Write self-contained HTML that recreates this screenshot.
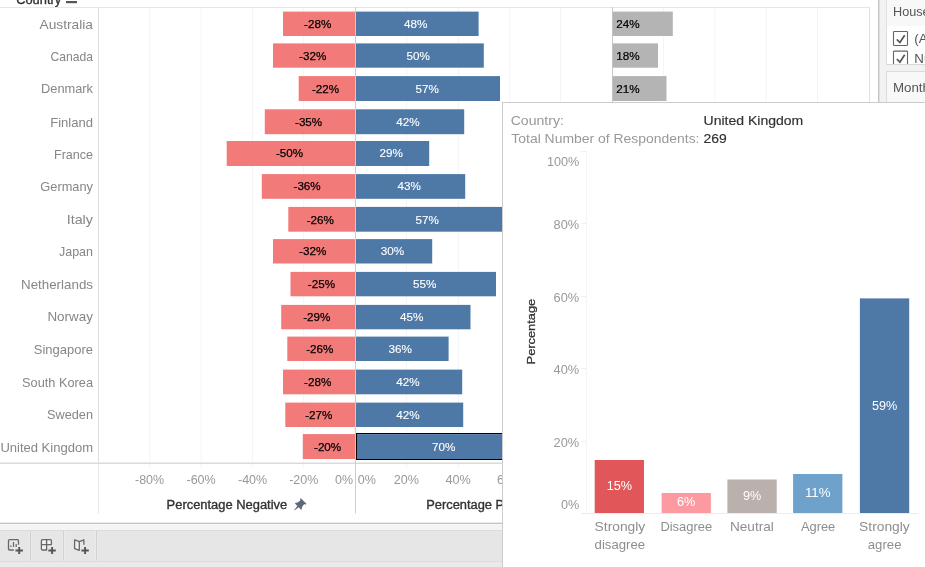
<!DOCTYPE html>
<html lang="en">
<head>
<meta charset="utf-8">
<title>Survey responses by country</title>
<style>
html,body{margin:0;padding:0;background:#fff;}
body{width:925px;height:567px;overflow:hidden;position:relative;font-family:"Liberation Sans", Arial, sans-serif;}
svg{position:absolute;left:0;top:0;display:block;overflow:hidden}
text{font-family:"Liberation Sans", Arial, sans-serif;}
#viz,#toolbar,#filters,#tooltip{position:absolute;overflow:hidden}
#viz{left:0;top:0;width:878px;height:523px;background:#fff}
#toolbar{left:0;top:522px;width:925px;height:45px}
#filters{left:878px;top:0;width:47px;height:523px;background:#f0f0f0}
#tooltip{left:502px;top:102px;width:423px;height:465px;background:#fff}
</style>
</head>
<body>

<div id="viz"><svg width="878" height="523" viewBox="0 0 878 523">
<text x="16.2" y="3.5" font-size="12.5" fill="#333" stroke="#333" stroke-width="0.35" textLength="45" lengthAdjust="spacingAndGlyphs">Country</text>
<rect x="66" y="1" width="11" height="2.2" fill="#555"/>
<g fill="#f4f4f4">
<rect x="149.30" y="8" width="1" height="460"/>
<rect x="200.60" y="8" width="1" height="460"/>
<rect x="251.90" y="8" width="1" height="460"/>
<rect x="303.20" y="8" width="1" height="460"/>
<rect x="406.10" y="8" width="1" height="460"/>
<rect x="457.90" y="8" width="1" height="460"/>
<rect x="508.90" y="8" width="1" height="460"/>
<rect x="560.00" y="8" width="1" height="460"/>
<rect x="663.10" y="8" width="1" height="460"/>
<rect x="714.40" y="8" width="1" height="460"/>
<rect x="765.70" y="8" width="1" height="460"/>
<rect x="817.00" y="8" width="1" height="460"/>
</g>
<rect x="0" y="7" width="870" height="1" fill="#e6e6e6"/>
<rect x="0" y="462" width="870" height="1" fill="#ececec"/>
<rect x="0" y="463" width="870" height="1" fill="#dadada"/>
<rect x="98" y="7" width="1" height="456" fill="#dedede"/>
<rect x="98" y="464" width="1" height="49.4" fill="#e6e6e6"/>
<g fill="#cccccc">
<rect x="355" y="7" width="1" height="506.4"/>
<rect x="612" y="7" width="1" height="506.4"/>
</g>
<rect x="869" y="7" width="1" height="506" fill="#e0e0e0"/>
<g fill="#f27b7a">
<rect x="283" y="11.6" width="72.0" height="24.4"/>
<rect x="273" y="43.4" width="82.0" height="24.3"/>
<rect x="298.7" y="76.1" width="56.3" height="24.9"/>
<rect x="264.8" y="109.3" width="90.2" height="24.9"/>
<rect x="226.7" y="141.0" width="128.3" height="25.0"/>
<rect x="261.8" y="174.1" width="93.2" height="24.7"/>
<rect x="288.3" y="206.9" width="66.7" height="24.8"/>
<rect x="273" y="239.1" width="82.0" height="24.4"/>
<rect x="290.5" y="271.9" width="64.5" height="24.4"/>
<rect x="281.2" y="304.9" width="73.8" height="24.4"/>
<rect x="287.3" y="336.6" width="67.7" height="24.4"/>
<rect x="283" y="369.6" width="72.0" height="24.7"/>
<rect x="285.3" y="402.6" width="69.7" height="24.4"/>
<rect x="302.8" y="434.1" width="52.2" height="24.9"/>
</g>
<g fill="#4e79a7">
<rect x="356" y="11.6" width="122.6" height="24.4"/>
<rect x="356" y="43.4" width="127.8" height="24.3"/>
<rect x="356" y="76.1" width="144.0" height="24.9"/>
<rect x="356" y="109.3" width="108.2" height="24.9"/>
<rect x="356" y="141.0" width="73.2" height="25.0"/>
<rect x="356" y="174.1" width="109.2" height="24.7"/>
<rect x="356" y="206.9" width="164.0" height="24.8"/>
<rect x="356" y="239.1" width="76.2" height="24.4"/>
<rect x="356" y="271.9" width="140.0" height="24.4"/>
<rect x="356" y="304.9" width="114.5" height="24.4"/>
<rect x="356" y="336.6" width="92.6" height="24.4"/>
<rect x="356" y="369.6" width="106.2" height="24.7"/>
<rect x="356" y="402.6" width="107.2" height="24.4"/>
<rect x="356" y="434.1" width="184.0" height="24.9"/>
</g>
<g fill="#b4b4b4">
<rect x="612.6" y="11.6" width="60.2" height="24.4"/>
<rect x="612.6" y="43.4" width="45.4" height="24.3"/>
<rect x="612.6" y="76.1" width="53.9" height="24.9"/>
</g>
<rect x="356.5" y="433.5" width="200" height="26" fill="none" stroke="#000" stroke-width="1"/>
<g font-size="12.6" fill="#868686" text-anchor="start">
<text x="39.5" y="29" textLength="53.5" lengthAdjust="spacingAndGlyphs">Australia</text>
<text x="50.5" y="61" textLength="42.5" lengthAdjust="spacingAndGlyphs">Canada</text>
<text x="41" y="93" textLength="52.0" lengthAdjust="spacingAndGlyphs">Denmark</text>
<text x="50.2" y="127" textLength="42.8" lengthAdjust="spacingAndGlyphs">Finland</text>
<text x="54" y="159" textLength="39.0" lengthAdjust="spacingAndGlyphs">France</text>
<text x="40.3" y="191" textLength="52.7" lengthAdjust="spacingAndGlyphs">Germany</text>
<text x="66.7" y="224" textLength="26.3" lengthAdjust="spacingAndGlyphs">Italy</text>
<text x="59" y="256" textLength="34.0" lengthAdjust="spacingAndGlyphs">Japan</text>
<text x="21" y="289" textLength="72.0" lengthAdjust="spacingAndGlyphs">Netherlands</text>
<text x="47.4" y="321" textLength="45.6" lengthAdjust="spacingAndGlyphs">Norway</text>
<text x="33.8" y="354" textLength="59.2" lengthAdjust="spacingAndGlyphs">Singapore</text>
<text x="22.1" y="387" textLength="70.9" lengthAdjust="spacingAndGlyphs">South Korea</text>
<text x="47.1" y="419" textLength="45.9" lengthAdjust="spacingAndGlyphs">Sweden</text>
<text x="0.4" y="452" textLength="92.6" lengthAdjust="spacingAndGlyphs">United Kingdom</text>
</g>
<g font-size="11.5" fill="#000" stroke="#000" stroke-width="0.25">
<text x="304.1" y="28" textLength="27.2" lengthAdjust="spacingAndGlyphs">-28%</text>
<text x="299.1" y="60" textLength="27.2" lengthAdjust="spacingAndGlyphs">-32%</text>
<text x="311.9" y="93" textLength="27.2" lengthAdjust="spacingAndGlyphs">-22%</text>
<text x="295.0" y="126" textLength="27.2" lengthAdjust="spacingAndGlyphs">-35%</text>
<text x="275.9" y="157" textLength="27.2" lengthAdjust="spacingAndGlyphs">-50%</text>
<text x="293.5" y="190" textLength="27.2" lengthAdjust="spacingAndGlyphs">-36%</text>
<text x="306.7" y="224" textLength="27.2" lengthAdjust="spacingAndGlyphs">-26%</text>
<text x="299.1" y="255" textLength="27.2" lengthAdjust="spacingAndGlyphs">-32%</text>
<text x="307.8" y="288" textLength="27.2" lengthAdjust="spacingAndGlyphs">-25%</text>
<text x="303.2" y="321" textLength="27.2" lengthAdjust="spacingAndGlyphs">-29%</text>
<text x="306.2" y="353" textLength="27.2" lengthAdjust="spacingAndGlyphs">-26%</text>
<text x="304.1" y="386" textLength="27.2" lengthAdjust="spacingAndGlyphs">-28%</text>
<text x="305.2" y="419" textLength="27.2" lengthAdjust="spacingAndGlyphs">-27%</text>
<text x="314.0" y="451" textLength="27.2" lengthAdjust="spacingAndGlyphs">-20%</text>
</g>
<g font-size="11.5" fill="#fff" stroke="#fff" stroke-width="0.12">
<text x="403.9" y="28" textLength="23.4" lengthAdjust="spacingAndGlyphs">48%</text>
<text x="406.4" y="60" textLength="23.4" lengthAdjust="spacingAndGlyphs">50%</text>
<text x="415.4" y="93" textLength="23.4" lengthAdjust="spacingAndGlyphs">57%</text>
<text x="396.2" y="126" textLength="23.4" lengthAdjust="spacingAndGlyphs">42%</text>
<text x="379.5" y="157" textLength="23.4" lengthAdjust="spacingAndGlyphs">29%</text>
<text x="397.5" y="190" textLength="23.4" lengthAdjust="spacingAndGlyphs">43%</text>
<text x="415.4" y="224" textLength="23.4" lengthAdjust="spacingAndGlyphs">57%</text>
<text x="380.8" y="255" textLength="23.4" lengthAdjust="spacingAndGlyphs">30%</text>
<text x="412.9" y="288" textLength="23.4" lengthAdjust="spacingAndGlyphs">55%</text>
<text x="400.0" y="321" textLength="23.4" lengthAdjust="spacingAndGlyphs">45%</text>
<text x="388.5" y="353" textLength="23.4" lengthAdjust="spacingAndGlyphs">36%</text>
<text x="396.2" y="386" textLength="23.4" lengthAdjust="spacingAndGlyphs">42%</text>
<text x="396.2" y="419" textLength="23.4" lengthAdjust="spacingAndGlyphs">42%</text>
<text x="432.1" y="451" textLength="23.4" lengthAdjust="spacingAndGlyphs">70%</text>
</g>
<g font-size="11.5" fill="#000" stroke="#000" stroke-width="0.22">
<text x="616.2" y="28" textLength="23.4" lengthAdjust="spacingAndGlyphs">24%</text>
<text x="616.2" y="60" textLength="23.4" lengthAdjust="spacingAndGlyphs">18%</text>
<text x="616.2" y="93" textLength="23.4" lengthAdjust="spacingAndGlyphs">21%</text>
</g>
<g font-size="12.3" fill="#999">
<text x="135.0" y="483.8" textLength="29.2" lengthAdjust="spacingAndGlyphs">-80%</text>
<text x="186.5" y="483.8" textLength="29.2" lengthAdjust="spacingAndGlyphs">-60%</text>
<text x="238.0" y="483.8" textLength="29.2" lengthAdjust="spacingAndGlyphs">-40%</text>
<text x="289.2" y="483.8" textLength="29.2" lengthAdjust="spacingAndGlyphs">-20%</text>
<text x="393.7" y="483.8" textLength="25.2" lengthAdjust="spacingAndGlyphs">20%</text>
<text x="445.5" y="483.8" textLength="25.4" lengthAdjust="spacingAndGlyphs">40%</text>
<text x="497.1" y="483.8" textLength="25.2" lengthAdjust="spacingAndGlyphs">60%</text>
<text x="335" y="483.8" textLength="18" lengthAdjust="spacingAndGlyphs">0%</text>
<text x="357.7" y="483.8" textLength="18.2" lengthAdjust="spacingAndGlyphs">0%</text>
</g>
<g font-size="12" fill="#333" stroke="#333" stroke-width="0.35">
<text x="166.6" y="509.3" textLength="120.6" lengthAdjust="spacingAndGlyphs">Percentage Negative</text>
<text x="426.2" y="509.3" textLength="114.5" lengthAdjust="spacingAndGlyphs">Percentage Positive</text>
</g>
<g transform="translate(300.8 503.8) rotate(45)" fill="#5f6a79"><path d="M-3.9 -4 H3.9 V-2.7 L2.7 -2.3 L3.1 1.2 L4.3 2.9 V4 H0.9 L0.25 9.4 L-0.25 9.4 L-0.9 4 H-4.3 V2.9 L-3.1 1.2 L-2.7 -2.3 L-3.9 -2.7 Z"/></g>
</svg></div>
<div id="filters"><svg width="47" height="523" viewBox="878 0 47 523">
<rect x="878" y="0" width="47" height="523" fill="#f2f2f2"/>
<rect x="878" y="0" width="1" height="523" fill="#c4c4c4"/>
<rect x="879" y="0" width="1" height="523" fill="#dedede"/>
<rect x="886" y="-1" width="40" height="66" fill="#fff" stroke="none"/>
<rect x="886" y="0" width="40" height="26" fill="#f8f8f8"/>
<rect x="886" y="0" width="1" height="65" fill="#e0e0e0"/>
<text x="893" y="16" font-size="13.6" fill="#555" textLength="60.5" lengthAdjust="spacingAndGlyphs">Household</text>
<rect x="893.5" y="31.5" width="14" height="14" rx="0.8" fill="#fff" stroke="#666" stroke-width="1.1"/>
<path d="M896.8 39.4 L899.9 42.5 L904.7 35.2" fill="none" stroke="#555" stroke-width="1.7"/>
<text x="914.3" y="43.3" font-size="13.3" fill="#555">(All)</text>
<rect x="893.5" y="51.1" width="14" height="14" rx="0.8" fill="#fff" stroke="#666" stroke-width="1.1"/>
<path d="M896.8 59.0 L899.9 62.1 L904.7 54.8" fill="none" stroke="#555" stroke-width="1.7"/>
<text x="914.3" y="62.9" font-size="13.3" fill="#555">Null</text>
<rect x="880" y="65" width="46" height="6" fill="#f2f2f2"/>
<rect x="886" y="64" width="40" height="1" fill="#d8d8d8"/>
<rect x="886" y="71" width="40" height="40" fill="#f8f8f8"/>
<rect x="886" y="71" width="40" height="1" fill="#dcdcdc"/>
<rect x="886" y="71" width="1" height="40" fill="#dcdcdc"/>
<text x="893" y="91.7" font-size="13.3" fill="#555">Month</text>
</svg></div>
<div id="toolbar"><svg width="925" height="45" viewBox="0 522 925 45">
<rect x="0" y="522" width="925" height="1" fill="#ebebeb"/>
<rect x="0" y="523" width="925" height="1" fill="#c2c2c2"/>
<rect x="0" y="524" width="925" height="1" fill="#f8f8f8"/>
<rect x="0" y="525" width="925" height="5" fill="#f4f4f4"/>
<rect x="0" y="530" width="925" height="1" fill="#dcdcdc"/>
<rect x="0" y="531" width="925" height="30" fill="#e6e6e6"/>
<rect x="0" y="561" width="925" height="1" fill="#dcdcdc"/>
<rect x="0" y="562" width="925" height="5" fill="#eaeaea"/>
<g fill="#eaeaea">
<rect x="29" y="531" width="3" height="29.5"/>
<rect x="62" y="531" width="3" height="29.5"/>
<rect x="95" y="531" width="3" height="29.5"/>
</g>
<g fill="#d0d0d0">
<rect x="30" y="531" width="1" height="29.5"/>
<rect x="63" y="531" width="1" height="29.5"/>
<rect x="96" y="531" width="1" height="29.5"/>
</g>
<g fill="none" stroke="#686868" stroke-width="1.3" stroke-linejoin="round">
<path d="M18.5 544.8 V540.8 Q18.5 539.7 17.4 539.7 H9.6 Q8.5 539.7 8.5 540.8 V548.9 Q8.5 550 9.6 550 H13.8"/>
<path d="M10.9 545.4 V547.1 M13.5 542.1 V547.1 M16.2 544 V547.1" stroke="#6c6c6c" stroke-width="1.25"/>
<path d="M46.6 544.6 H51.4 V540.7 Q51.4 539.6 50.3 539.6 H42.5 Q41.4 539.6 41.4 540.7 V548.9 Q41.4 550 42.5 550 H46.6 V539.6 M41.4 544.6 H46.6" fill="#f2f2f2"/>
<path d="M79.3 541.6 L74.6 539.8 V548.6 L79.3 550.3 Z" fill="#f0f0f0"/>
<path d="M79.3 541.6 L83.9 539.8 V544.8"/>
</g>
<path d="M15.5 550.5 H22.9 M19.2 547.0 V554.1" stroke="#555" stroke-width="1.9" fill="none"/>
<path d="M48.4 550.5 H55.8 M52.1 547.0 V554.1" stroke="#555" stroke-width="1.9" fill="none"/>
<path d="M81.4 550.5 H88.8 M85.1 547.0 V554.1" stroke="#555" stroke-width="1.9" fill="none"/>
</svg></div>
<div id="tooltip"><svg width="423" height="465" viewBox="502 102 423 465">
<rect x="502" y="102" width="423" height="465" fill="#fff"/>
<rect x="502" y="102" width="423" height="1" fill="#cccccc"/>
<rect x="502" y="102" width="1" height="465" fill="#cccccc"/>
<g font-size="13.3" fill="#999999">
<text x="510.7" y="125" textLength="53.2" lengthAdjust="spacingAndGlyphs">Country:</text>
<text x="511.3" y="143" textLength="188.2" lengthAdjust="spacingAndGlyphs">Total Number of Respondents:</text>
</g>
<g font-size="13.2" fill="#333" stroke="#333" stroke-width="0.18">
<text x="703.6" y="124.7" textLength="99.6" lengthAdjust="spacingAndGlyphs">United Kingdom</text>
<text x="703.6" y="143" textLength="23.2" lengthAdjust="spacingAndGlyphs">269</text>
</g>
<rect x="586" y="151" width="1" height="363" fill="#f5f5f5"/>
<rect x="581" y="513" width="337" height="1" fill="#ececec"/>
<g fill="#f1f1f1">
<rect x="581" y="151" width="5" height="1"/>
<rect x="581" y="223" width="5" height="1"/>
<rect x="581" y="296" width="5" height="1"/>
<rect x="581" y="368" width="5" height="1"/>
<rect x="581" y="441" width="5" height="1"/>
</g>
<g font-size="12.3" fill="#999">
<text x="546.9" y="165.9" textLength="32.3" lengthAdjust="spacingAndGlyphs">100%</text>
<text x="553.6" y="228.9" textLength="25.6" lengthAdjust="spacingAndGlyphs">80%</text>
<text x="553.6" y="302.0" textLength="25.6" lengthAdjust="spacingAndGlyphs">60%</text>
<text x="553.6" y="373.9" textLength="25.6" lengthAdjust="spacingAndGlyphs">40%</text>
<text x="553.6" y="447.1" textLength="25.6" lengthAdjust="spacingAndGlyphs">20%</text>
<text x="561.0" y="509.4" textLength="18.2" lengthAdjust="spacingAndGlyphs">0%</text>
</g>
<text transform="translate(535.4 364.4) rotate(-90)" font-size="11.8" fill="#333" stroke="#333" stroke-width="0.3" textLength="65.6" lengthAdjust="spacingAndGlyphs">Percentage</text>
<rect x="594.7" y="460" width="49.3" height="53.0" fill="#e15759"/>
<rect x="661.6" y="493" width="49.3" height="20.0" fill="#fd9aa1"/>
<rect x="727.4" y="479.5" width="49.3" height="33.5" fill="#bab0ac"/>
<rect x="793.1" y="474" width="49.3" height="39.0" fill="#6fa2cb"/>
<rect x="859.9" y="298.4" width="49.3" height="214.6" fill="#4e79a7"/>
<g font-size="12.3" fill="#fff">
<text x="606.7" y="489.9" textLength="25.3" lengthAdjust="spacingAndGlyphs">15%</text>
<text x="677.0" y="506.1" textLength="18.4" lengthAdjust="spacingAndGlyphs">6%</text>
<text x="742.9" y="500.1" textLength="18.2" lengthAdjust="spacingAndGlyphs">9%</text>
<text x="804.9" y="496.7" textLength="25.6" lengthAdjust="spacingAndGlyphs">11%</text>
<text x="871.9" y="409.8" textLength="25.3" lengthAdjust="spacingAndGlyphs">59%</text>
</g>
<g font-size="13.3" fill="#8e8e8e">
<text x="594.6" y="531" textLength="50.6" lengthAdjust="spacingAndGlyphs">Strongly</text>
<text x="594.6" y="548.6" textLength="50.6" lengthAdjust="spacingAndGlyphs">disagree</text>
<text x="660.4" y="531" textLength="51.7" lengthAdjust="spacingAndGlyphs">Disagree</text>
<text x="729.9" y="531" textLength="44" lengthAdjust="spacingAndGlyphs">Neutral</text>
<text x="800.9" y="531" textLength="34.4" lengthAdjust="spacingAndGlyphs">Agree</text>
<text x="859.1" y="531" textLength="50.6" lengthAdjust="spacingAndGlyphs">Strongly</text>
<text x="867.8" y="548.6" textLength="33.7" lengthAdjust="spacingAndGlyphs">agree</text>
</g>
</svg></div>
</body>
</html>
